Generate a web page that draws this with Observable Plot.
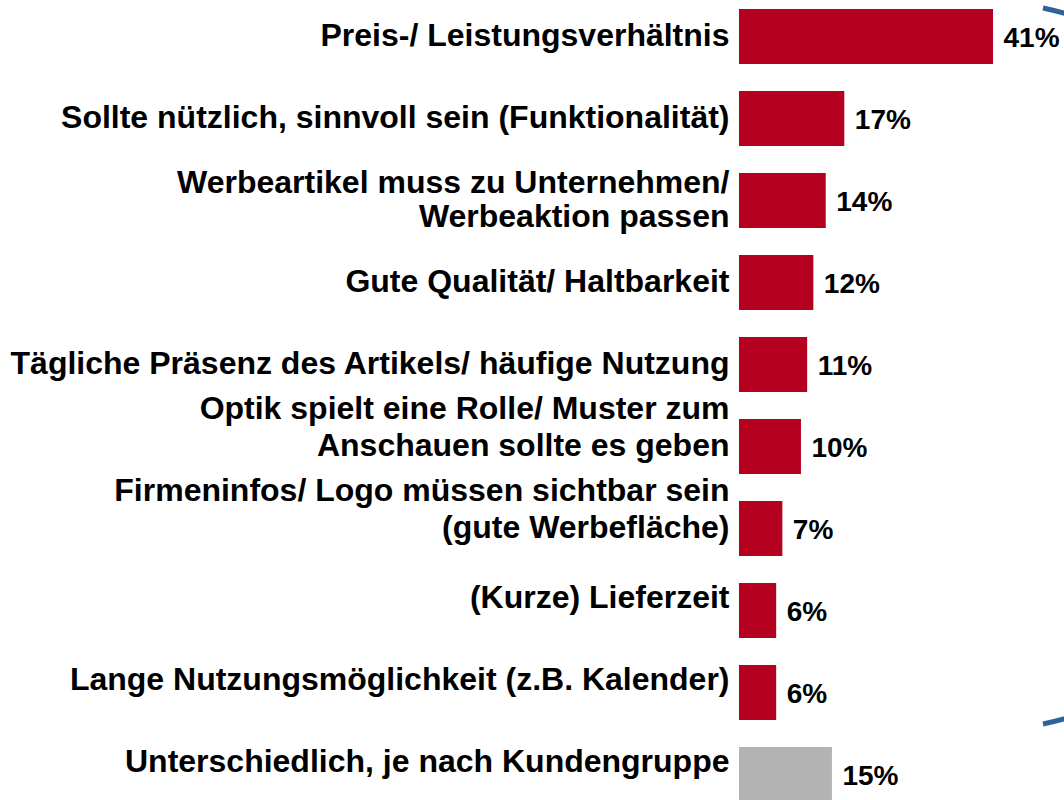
<!DOCTYPE html>
<html>
<head>
<meta charset="utf-8">
<script src="https://cdn.jsdelivr.net/npm/d3@7"></script>
<script src="https://cdn.jsdelivr.net/npm/@observablehq/plot@0.6"></script>
<style>
  html, body { margin: 0; padding: 0; background: #fff; }
  #chart svg { display: block; }
</style>
</head>
<body>
<div id="chart"></div>
<script>
const categories = [
  "Preis-/ Leistungsverhältnis",
  "Sollte nützlich, sinnvoll sein (Funktionalität)",
  "Werbeartikel muss zu Unternehmen/\nWerbeaktion passen",
  "Gute Qualität/ Haltbarkeit",
  "Tägliche Präsenz des Artikels/ häufige Nutzung",
  "Optik spielt eine Rolle/ Muster zum\nAnschauen sollte es geben",
  "Firmeninfos/ Logo müssen sichtbar sein\n(gute Werbefläche)",
  "(Kurze) Lieferzeit",
  "Lange Nutzungsmöglichkeit (z.B. Kalender)",
  "Unterschiedlich, je nach Kundengruppe"
];
const values = [41, 17, 14, 12, 11, 10, 7, 6, 6, 15];
const groups = ["main", "main", "main", "main", "main", "main", "main", "main", "main", "other"];

const data = categories.map((c, i) => ({category: c, value: values[i], group: groups[i], i}));
const font = "'Liberation Sans', Arial, Helvetica, sans-serif";

const labelStyle = {
  x: 0, y: "category", text: "category",
  textAnchor: "end", dx: -10,
  fontSize: 32, fontWeight: "bold", fill: "#000"
};

const chart = Plot.plot({
  width: 1064,
  height: 800,
  margin: 0,
  style: {fontFamily: font, background: "#fff"},
  x: {domain: [0, 41], range: [739, 993], axis: null},
  y: {domain: categories, range: [-6.7, 817.3], paddingInner: 0.333, paddingOuter: 0.1667, axis: null},
  color: {domain: ["main", "other"], range: ["#B5001F", "#B3B3B3"]},
  marks: [
    Plot.barX(data, {x: "value", y: "category", fill: "group"}),
    Plot.text(data, {
      x: "value", y: "category", text: d => d.value + "%",
      textAnchor: "start", dx: 10, dy: 1,
      fontSize: 28, fontWeight: "bold", fill: "#000"
    }),
    Plot.text(data.filter(d => d.i <= 4), {...labelStyle, dy: -2, lineHeight: 1.05}),
    Plot.text(data.filter(d => d.i === 5 || d.i === 6), {...labelStyle, dy: -21, lineHeight: 1.14}),
    Plot.text(data.filter(d => d.i >= 7), {...labelStyle, dy: -13})
  ]
});

// decorative blue bracket arc at the right edge
const ns = "http://www.w3.org/2000/svg";
const arc = document.createElementNS(ns, "path");
arc.setAttribute("d", "M1043,8 A366,366 0 0 1 1043,724");
arc.setAttribute("fill", "none");
arc.setAttribute("stroke", "#2E6399");
arc.setAttribute("stroke-width", "5");
chart.appendChild(arc);

document.getElementById("chart").appendChild(chart);
</script>
</body>
</html>
